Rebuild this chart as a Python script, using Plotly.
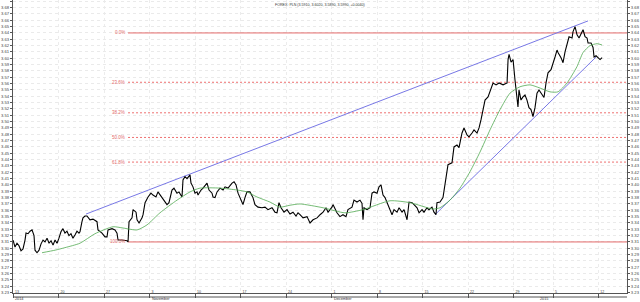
import plotly.graph_objects as go

# trading-day offset from Mon 13 Oct 2014 (5 sessions per week)
price_session = [0, 0.22, 0.44, 0.66, 0.88, 1.10, 1.32, 1.43, 1.65, 1.87, 2.09, 2.31, 2.42, 2.64, 2.86,
    3.08, 3.30, 3.52, 3.74, 3.96, 4.18, 4.40, 4.62, 4.84, 5.05, 5.27, 5.49, 5.71, 5.93, 6.15, 6.37, 6.59,
    6.81, 7.03, 7.25, 7.36, 7.58, 7.69, 7.91, 8.13,
    8.46, 8.79, 9.23, 9.34, 9.78, 10.11, 10.33, 10.44, 10.88, 11.21, 11.43, 11.54, 11.98, 12.31, 12.53,
    12.64, 12.75, 13.08, 13.19, 13.52, 13.63, 13.85, 14.18, 14.29, 14.51, 14.84, 15.16, 15.38, 15.71,
    15.93, 16.37, 16.70, 16.92, 17.14, 17.47, 17.69, 18.02, 18.24, 18.57, 18.68, 18.90, 19.12, 19.45,
    19.56, 19.78, 20.00, 20.22, 20.33, 20.66, 20.88, 21.32, 21.54, 21.87, 21.98, 22.20, 22.42, 22.75,
    23.08, 23.30, 23.63, 24.07, 24.29, 24.51, 24.73, 25.05, 25.27, 25.49, 25.71, 26.04, 26.37, 26.59,
    26.92, 27.36, 27.69, 28.02, 28.46, 28.79, 29.01, 29.23,
    29.45, 29.78, 30.11, 30.44, 30.77, 31.10, 31.32,
    31.54, 31.87, 32.31, 32.64, 32.97, 33.41, 33.74, 34.07, 34.40, 34.62, 35.05, 35.16, 35.60, 35.93,
    36.26, 36.59, 36.81, 37.25, 37.47, 37.80, 38.13, 38.35, 38.46, 38.57, 38.90, 39.23, 39.45, 39.67,
    40.00, 40.22, 40.44, 40.66, 40.88, 41.10, 41.32, 41.65, 41.87, 42.20, 42.42, 42.75, 42.97, 43.19,
    43.30, 43.52, 43.85, 44.07, 44.40, 44.62, 44.95, 45.16, 45.49, 45.71, 46.04, 46.26, 46.48, 46.59,
    46.92, 47.25, 47.36, 47.58, 47.80, 48.24,
    48.46, 48.79, 49.01, 49.34, 49.56, 49.89, 50.11, 50.44, 50.66, 50.99, 51.21, 51.43, 51.65, 51.87,
    52.20, 52.53, 52.75, 53.08, 53.41, 53.85, 54.29, 54.40, 54.51, 54.73, 54.95, 55.16, 55.38, 55.49,
    55.60, 55.82, 56.04, 56.26, 56.48, 56.70, 56.92, 57.14, 57.36, 57.58, 57.80, 58.13, 58.35, 58.57,
    58.79, 59.12, 59.34, 59.56, 59.78, 59.89, 60.22, 60.44, 60.66, 60.88, 61.10, 61.43, 61.54, 61.76,
    61.98, 62.20, 62.53, 62.64, 62.86, 63.08, 63.19, 63.52, 63.74, 63.85, 64.07, 64.29, 64.51, 64.73]

price_close = [3.313, 3.302, 3.308, 3.304, 3.296, 3.299, 3.313, 3.324, 3.323, 3.327, 3.329, 3.320, 3.297, 3.293, 3.297,
    3.307, 3.313, 3.310, 3.316, 3.308, 3.312, 3.305, 3.313, 3.308, 3.316, 3.326, 3.331, 3.324, 3.327, 3.320, 3.323, 3.316,
    3.321, 3.327, 3.324, 3.326, 3.342, 3.348, 3.351, 3.351,
    3.345, 3.346, 3.342, 3.329, 3.324, 3.318, 3.318, 3.329, 3.331, 3.329, 3.324, 3.313, 3.313, 3.312, 3.312,
    3.310, 3.342, 3.348, 3.361, 3.357, 3.345, 3.340, 3.348, 3.353, 3.372, 3.381, 3.387, 3.384, 3.381,
    3.389, 3.380, 3.373, 3.369, 3.372, 3.392, 3.395, 3.387, 3.389, 3.381, 3.408, 3.413, 3.410, 3.416,
    3.403, 3.397, 3.387, 3.389, 3.384, 3.392, 3.395, 3.403, 3.392, 3.387, 3.381, 3.380, 3.389, 3.395,
    3.392, 3.397, 3.395, 3.403, 3.405, 3.400, 3.387, 3.376, 3.369, 3.380, 3.389, 3.389, 3.380, 3.369,
    3.365, 3.364, 3.365, 3.361, 3.364, 3.357, 3.356, 3.372,
    3.364, 3.357, 3.361, 3.354, 3.357, 3.351, 3.356,
    3.353, 3.348, 3.350, 3.340, 3.345, 3.348, 3.353, 3.357, 3.364, 3.357, 3.365, 3.369, 3.356, 3.350,
    3.353, 3.350, 3.361, 3.365, 3.376, 3.373, 3.376, 3.371, 3.345, 3.364, 3.361, 3.364, 3.387, 3.389,
    3.387, 3.397, 3.400, 3.384, 3.380, 3.372, 3.365, 3.353, 3.361, 3.357, 3.364, 3.357, 3.361, 3.348,
    3.345, 3.373, 3.372, 3.369, 3.364, 3.356, 3.361, 3.357, 3.364, 3.361, 3.365, 3.357, 3.353, 3.372,
    3.373, 3.380, 3.392, 3.413, 3.432, 3.435,
    3.460, 3.463, 3.459, 3.482, 3.490, 3.479, 3.476, 3.482, 3.487, 3.482, 3.490, 3.503, 3.519, 3.534,
    3.539, 3.553, 3.561, 3.558, 3.561, 3.558, 3.561, 3.598, 3.606, 3.594, 3.598, 3.566, 3.534, 3.523,
    3.550, 3.534, 3.539, 3.542, 3.534, 3.522, 3.519, 3.508, 3.522, 3.545, 3.550, 3.542, 3.538, 3.561,
    3.577, 3.582, 3.594, 3.602, 3.613, 3.609, 3.601, 3.593, 3.610, 3.624, 3.634, 3.632, 3.642, 3.650,
    3.637, 3.632, 3.640, 3.645, 3.634, 3.632, 3.624, 3.624, 3.617, 3.602, 3.604, 3.601, 3.598, 3.601]

ma_session = [3.19, 4.62, 5.71, 7.36, 9.01, 10.99, 12.09, 13.63, 14.73, 16.15, 18.02, 19.45, 20.55, 22.75,
    24.62, 25.71, 26.81, 28.24, 29.34, 30.44, 31.54, 34.07, 36.48, 38.46, 41.43, 43.63, 46.15, 46.92,
    48.02, 49.12, 50.22, 51.32, 52.42, 53.52, 54.62, 55.71, 56.81, 57.91, 59.01, 59.89, 60.88, 61.98,
    62.64, 63.41, 64.18, 64.73]
ma_value = [3.293, 3.297, 3.301, 3.308, 3.323, 3.334, 3.332, 3.329, 3.337, 3.356, 3.376, 3.389, 3.395, 3.395,
    3.392, 3.389, 3.381, 3.373, 3.365, 3.368, 3.370, 3.364, 3.356, 3.361, 3.375, 3.372, 3.362, 3.364,
    3.376, 3.395, 3.421, 3.452, 3.487, 3.519, 3.545, 3.555, 3.558, 3.553, 3.547, 3.547, 3.561, 3.587,
    3.609, 3.620, 3.623, 3.621]

trend_upper_session = [8.02, 63.19]
trend_upper_value = [3.354, 3.659]
trend_lower_session = [46.37, 64.07]
trend_lower_value = [3.353, 3.602]

fib_labels = ["0.0%", "23.6%", "38.2%", "50.0%", "61.8%", "100.0%"]
fib_values = [3.640, 3.5621, 3.5139, 3.475, 3.4361, 3.310]
fib_start = 12.64

tick_sessions = [0, 5, 10, 15, 20, 25, 30, 35, 40, 45, 50, 55, 59.35, 64.3]
tick_days = ["13", "20", "27", "3", "10", "17", "24", "1", "8", "15", "22", "29", "5", "12"]
period_labels = ["2014", "November", "December", "2015"]
period_sessions = [0, 15, 35, 57.7]

title_text = "FOREX: PLN (3.5910, 3.6020, 3.5890, 3.5990, +0.0040)"

X_MAX = 67.47
Y_MIN, Y_MAX = 3.2294, 3.692
FIB_RED = "#e36a6a"
FONT = "Liberation Sans, Arial, sans-serif"

fig = go.Figure()

for lab, val in zip(fib_labels, fib_values):
    solid = lab in ("0.0%", "100.0%")
    fig.add_trace(go.Scatter(x=[fib_start, X_MAX], y=[val, val], mode="lines",
        line=dict(color=FIB_RED if solid else "#ee7070", width=1, dash=None if solid else "2px,2px"),
        hoverinfo="skip", showlegend=False))
    fig.add_annotation(x=fib_start, y=val, text=lab, xanchor="right", yanchor="middle",
        showarrow=False, font=dict(size=4.5, color=FIB_RED, family=FONT), xshift=-1)

fig.add_trace(go.Scatter(x=trend_upper_session, y=trend_upper_value, mode="lines",
    line=dict(color="#7878e6", width=1), hoverinfo="skip", showlegend=False))
fig.add_trace(go.Scatter(x=trend_lower_session, y=trend_lower_value, mode="lines",
    line=dict(color="#7878e6", width=1), hoverinfo="skip", showlegend=False))

fig.add_trace(go.Scatter(x=ma_session, y=ma_value, mode="lines", yaxis="y2",
    line=dict(color="#52aa52", width=0.8, shape="spline", smoothing=0.6), showlegend=False))

fig.add_trace(go.Scatter(x=price_session, y=price_close, mode="lines",
    line=dict(color="#000000", width=1.1), showlegend=False))

fig.add_annotation(x=0.5, xref="paper", y=1.0, yref="paper", yshift=-1,
    text=title_text, showarrow=False, font=dict(size=3.6, color="#333", family=FONT),
    yanchor="top", xanchor="center")

for lab, s in zip(period_labels, period_sessions):
    fig.add_annotation(x=s, y=-9.5 / 293, yref="paper", text=lab, showarrow=False, xanchor="left",
        yanchor="bottom", font=dict(size=3.8, color="#333", family=FONT))

# bottom band line of the date axis
fig.add_shape(type="line", xref="paper", yref="paper", x0=0, x1=1, y0=-4 / 293, y1=-4 / 293,
    line=dict(color="#555", width=1), layer="above")

axis_font = dict(size=4.2, color="#444", family=FONT)
fig.update_layout(
    width=640, height=302, margin=dict(l=13, r=13, t=0, b=9),
    paper_bgcolor="white", plot_bgcolor="white",
    xaxis=dict(range=[0, X_MAX], tickmode="array", tickvals=tick_sessions, ticktext=tick_days,
        ticks="outside", ticklen=4, tickcolor="#555", tickwidth=1,
        ticklabelposition="outside right", ticklabelstandoff=-5, ticklabelshift=1,
        tickfont=dict(size=3.6, color="#444", family=FONT),
        showgrid=True, gridcolor="#ececec", griddash="dot", gridwidth=1,
        showline=True, linecolor="#555", linewidth=1, zeroline=False),
    yaxis=dict(range=[Y_MIN, Y_MAX], tickmode="linear", tick0=3.23, dtick=0.01, tickformat=".2f",
        ticks="outside", ticklen=2, tickcolor="#555", tickfont=axis_font,
        showgrid=True, gridcolor="#eaeaea", griddash="dot", gridwidth=1,
        showline=True, linecolor="#555", linewidth=1, zeroline=False),
    yaxis2=dict(range=[Y_MIN, Y_MAX], matches="y", overlaying="y", side="right",
        tickmode="linear", tick0=3.23, dtick=0.01, tickformat=".2f",
        ticks="outside", ticklen=2, tickcolor="#555", tickfont=axis_font,
        showgrid=False, showline=True, linecolor="#555", linewidth=1, zeroline=False),
)

fig.write_html("out.html")
